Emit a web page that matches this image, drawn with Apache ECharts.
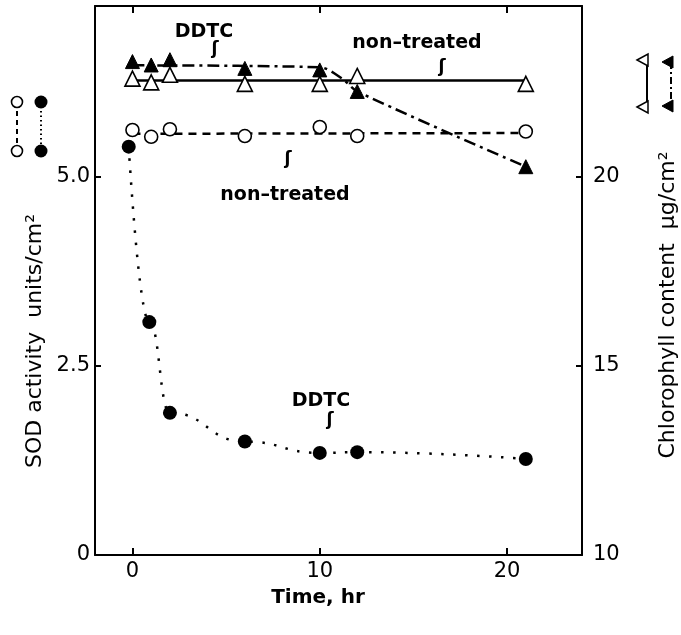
<!DOCTYPE html>
<html>
<head>
<meta charset="utf-8">
<script src="https://cdn.jsdelivr.net/npm/echarts@6/dist/echarts.min.js"></script>
<style>
html,body{margin:0;padding:0;background:#fff;}
#chart{width:681px;height:635px;}
</style>
</head>
<body>
<div id="chart"></div>
<script>
// ---- data ----
const timeChl = [0, 1, 2, 6, 10, 12, 21];
const chlNonTreated = [22.6, 22.5, 22.7, 22.46, 22.46, 22.67, 22.46];
const chlDDTC = [23.05, 22.96, 23.1, 22.87, 22.83, 22.26, 20.27];
const timeSODnt = [0, 1, 2, 6, 10, 12, 21];
const sodNonTreated = [5.62, 5.53, 5.63, 5.54, 5.66, 5.54, 5.6];
const timeSODddtc = [-0.2, 0.9, 2, 6, 10, 12, 21];
const sodDDTC = [5.4, 3.08, 1.88, 1.5, 1.35, 1.36, 1.27];
// fitted curves drawn in the reference
const fitChlNtT = [0, 21];
const fitChlNt = [22.55, 22.55];
const fitChlDdtcT = [0, 10, 11.2, 12, 21];
const fitChlDdtc = [22.95, 22.9, 22.6, 22.26, 20.27];
const fitSodNtT = [0, 21];
const fitSodNt = [5.57, 5.58];
// ticks
const xTicks = [0, 10, 20];
const yLeftTicks = [0, 2.5, 5];
const yRightTicks = [10, 15, 20];

const pairs = (xs, ys) => xs.map((x, i) => [x, ys[i]]);
const FONT = 'DejaVu Sans';

const chart = echarts.init(document.getElementById('chart'), null, {renderer: 'canvas'});
const axisLineStyle = {color: '#000', width: 2};

const option = {
  backgroundColor: '#fff',
  animation: false,
  grid: {left: 95, right: 99, top: 6, bottom: 80},
  xAxis: [{
    type: 'value', min: -2, max: 24, position: 'bottom',
    axisLine: {show: true, onZero: false, lineStyle: axisLineStyle},
    axisTick: {show: true, inside: true, length: 7, lineStyle: {color: '#000', width: 2}, customValues: xTicks},
    axisLabel: {show: true, customValues: xTicks, color: '#000', fontSize: 21, fontFamily: FONT, margin: 6},
    splitLine: {show: false}
  }, {
    type: 'value', min: -2, max: 24, position: 'top',
    axisLine: {show: true, onZero: false, lineStyle: axisLineStyle},
    axisTick: {show: true, inside: true, length: 7, lineStyle: {color: '#000', width: 2}, customValues: xTicks},
    axisLabel: {show: false},
    splitLine: {show: false}
  }],
  yAxis: [{
    type: 'value', min: 0, max: 7.26, position: 'left',
    axisLine: {show: true, onZero: false, lineStyle: axisLineStyle},
    axisTick: {show: true, inside: true, length: 6, lineStyle: {color: '#000', width: 2}, customValues: [2.5, 5]},
    axisLabel: {show: true, customValues: yLeftTicks, color: '#000', fontSize: 21, fontFamily: FONT, margin: 5,
      formatter: v => v === 0 ? '0' : v.toFixed(1)},
    splitLine: {show: false}
  }, {
    type: 'value', min: 10, max: 24.52, position: 'right',
    axisLine: {show: true, onZero: false, lineStyle: axisLineStyle},
    axisTick: {show: true, inside: true, length: 6, lineStyle: {color: '#000', width: 2}, customValues: [15, 20]},
    axisLabel: {show: true, customValues: yRightTicks, color: '#000', fontSize: 21, fontFamily: FONT, margin: 11},
    splitLine: {show: false}
  }],
  series: [
    // fitted lines
    {type: 'line', yAxisIndex: 1, data: pairs(fitChlNtT, fitChlNt), showSymbol: false, symbol: 'none',
      lineStyle: {color: '#000', width: 2.5, type: 'solid'}, z: 2},
    {type: 'line', yAxisIndex: 1, data: pairs(fitChlDdtcT, fitChlDdtc), showSymbol: false, symbol: 'none', smooth: 0.3,
      lineStyle: {color: '#000', width: 2.5, type: [12, 5, 3, 5]}, z: 2},
    {type: 'line', yAxisIndex: 0, data: pairs(fitSodNtT, fitSodNt), showSymbol: false, symbol: 'none',
      lineStyle: {color: '#000', width: 2.5, type: [8, 6]}, z: 2},
    {type: 'line', yAxisIndex: 0, data: pairs(timeSODddtc, sodDDTC), symbol: 'none', smooth: 0.5, smoothMonotone: 'x',
      lineStyle: {color: '#000', width: 2.5, type: [2.5, 9.5]}, z: 2},
    // markers
    {type: 'scatter', yAxisIndex: 1, data: pairs(timeChl, chlNonTreated), symbol: 'triangle', symbolSize: [15, 15],
      itemStyle: {color: '#fff', borderColor: '#000', borderWidth: 1.6, opacity: 1}, z: 5},
    {type: 'scatter', yAxisIndex: 1, data: pairs(timeChl, chlDDTC), symbol: 'triangle', symbolSize: [14, 14],
      itemStyle: {color: '#000', borderColor: '#000', borderWidth: 1, opacity: 1}, z: 6},
    {type: 'scatter', yAxisIndex: 0, data: pairs(timeSODnt, sodNonTreated), symbol: 'circle', symbolSize: 13,
      itemStyle: {color: '#fff', borderColor: '#000', borderWidth: 1.6, opacity: 1}, z: 5},
    {type: 'scatter', yAxisIndex: 0, data: pairs(timeSODddtc, sodDDTC), symbol: 'circle', symbolSize: 14,
      itemStyle: {color: '#000', opacity: 1}, z: 5}
  ],
  graphic: [
    // axis titles
    {type: 'text', x: 35, y: 341, rotation: Math.PI / 2,
      style: {text: 'SOD activity  units/cm²', font: '22px "DejaVu Sans"', fill: '#000', align: 'center', verticalAlign: 'middle'}},
    {type: 'text', x: 668, y: 305, rotation: Math.PI / 2,
      style: {text: 'Chlorophyll content  μg/cm²', font: '22px "DejaVu Sans"', fill: '#000', align: 'center', verticalAlign: 'middle'}},
    {type: 'text', x: 318, y: 598,
      style: {text: 'Time, hr', font: 'bold 20px "DejaVu Sans"', fill: '#000', align: 'center', verticalAlign: 'middle'}},
    // in-plot labels
    {type: 'text', x: 204, y: 32, style: {text: 'DDTC', font: 'bold 19px "DejaVu Sans"', fill: '#000', align: 'center', verticalAlign: 'middle'}},
    {type: 'text', x: 215, y: 50, style: {text: 'ʃ', font: 'bold 17px "DejaVu Sans"', fill: '#000', align: 'center', verticalAlign: 'middle'}},
    {type: 'text', x: 417, y: 43, style: {text: 'non–treated', font: 'bold 19px "DejaVu Sans"', fill: '#000', align: 'center', verticalAlign: 'middle'}},
    {type: 'text', x: 442, y: 68, style: {text: 'ʃ', font: 'bold 17px "DejaVu Sans"', fill: '#000', align: 'center', verticalAlign: 'middle'}},
    {type: 'text', x: 285, y: 195, style: {text: 'non–treated', font: 'bold 19px "DejaVu Sans"', fill: '#000', align: 'center', verticalAlign: 'middle'}},
    {type: 'text', x: 288, y: 160, style: {text: 'ʃ', font: 'bold 17px "DejaVu Sans"', fill: '#000', align: 'center', verticalAlign: 'middle'}},
    {type: 'text', x: 321, y: 401, style: {text: 'DDTC', font: 'bold 19px "DejaVu Sans"', fill: '#000', align: 'center', verticalAlign: 'middle'}},
    {type: 'text', x: 330, y: 421, style: {text: 'ʃ', font: 'bold 17px "DejaVu Sans"', fill: '#000', align: 'center', verticalAlign: 'middle'}},
    // left legend keys
    {type: 'line', shape: {x1: 17, y1: 102, x2: 17, y2: 151}, style: {stroke: '#000', lineWidth: 2, lineDash: [5, 4]}},
    {type: 'circle', shape: {cx: 17, cy: 102, r: 5.5}, style: {fill: '#fff', stroke: '#000', lineWidth: 1.6}},
    {type: 'circle', shape: {cx: 17, cy: 151, r: 5.5}, style: {fill: '#fff', stroke: '#000', lineWidth: 1.6}},
    {type: 'line', shape: {x1: 41, y1: 102, x2: 41, y2: 151}, style: {stroke: '#000', lineWidth: 2, lineDash: [1.5, 3]}},
    {type: 'circle', shape: {cx: 41, cy: 102, r: 6.5}, style: {fill: '#000'}},
    {type: 'circle', shape: {cx: 41, cy: 151, r: 6.5}, style: {fill: '#000'}},
    // right legend keys
    {type: 'line', shape: {x1: 647, y1: 60, x2: 647, y2: 107}, style: {stroke: '#000', lineWidth: 2}},
    {type: 'polygon', shape: {points: [[637, 60], [648, 54], [648, 66]]}, style: {fill: '#fff', stroke: '#000', lineWidth: 1.5}},
    {type: 'polygon', shape: {points: [[637, 107], [648, 101], [648, 113]]}, style: {fill: '#fff', stroke: '#000', lineWidth: 1.5}},
    {type: 'line', shape: {x1: 671, y1: 62, x2: 671, y2: 106}, style: {stroke: '#000', lineWidth: 2, lineDash: [7, 3, 2, 3]}},
    {type: 'polygon', shape: {points: [[662, 62], [673, 56], [673, 68]]}, style: {fill: '#000', stroke: '#000', lineWidth: 1}},
    {type: 'polygon', shape: {points: [[662, 106], [673, 100], [673, 112]]}, style: {fill: '#000', stroke: '#000', lineWidth: 1}}
  ]
};
chart.setOption(option);
</script>
</body>
</html>
